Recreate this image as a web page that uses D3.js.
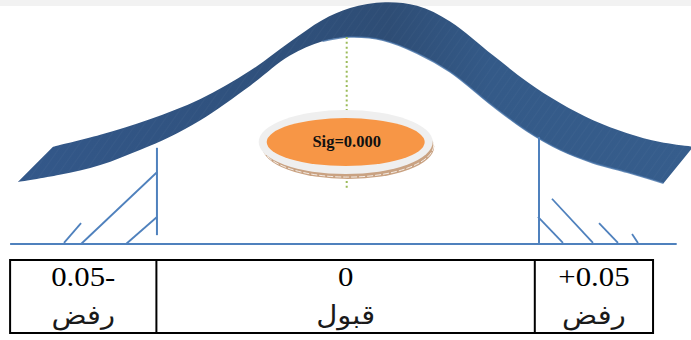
<!DOCTYPE html>
<html>
<head>
<meta charset="utf-8">
<script src="https://cdn.jsdelivr.net/npm/d3@7"></script>
<style>
  html, body { margin: 0; padding: 0; background: #ffffff; overflow: hidden; }
  svg { display: block; }
</style>
</head>
<body>
<svg id="chart" width="691" height="340"></svg>
<script>
// ---- data: z-score on x, curve height (density) on y ----
// lower (front) edge of the bell ribbon
const frontEdge = [
  [-3.02, 0.119], [-2.64, 0.133], [-2.27, 0.152], [-1.91, 0.181], [-1.64, 0.206],
  [-1.36, 0.238], [-0.91, 0.304], [-0.55, 0.362], [-0.25, 0.390], [0.00, 0.398],
  [0.30, 0.392], [0.61, 0.367], [0.91, 0.331], [1.30, 0.265], [1.61, 0.217],
  [1.91, 0.181], [2.21, 0.156], [2.52, 0.138], [2.85, 0.117]
];
// upper (back) edge of the bell ribbon
const backEdge = [
  [-2.70, 0.187], [-2.27, 0.210], [-1.82, 0.240], [-1.36, 0.279], [-0.91, 0.333],
  [-0.55, 0.388], [-0.25, 0.431], [0.00, 0.454], [0.32, 0.465], [0.61, 0.458],
  [0.91, 0.428], [1.30, 0.363], [1.61, 0.312], [1.91, 0.271], [2.21, 0.238],
  [2.52, 0.213], [2.82, 0.196], [3.12, 0.187]
];
// critical values: [z, bottom, top of the marker line]
const criticalLines = [[-1.755, 0.017, 0.185], [1.718, 0.002, 0.206]];
// rejection-region hatching: [z1, d1, z2, d2]
const hatchLeft = [
  [-2.60, 0.002, -2.445, 0.040],
  [-2.445, 0.000, -1.755, 0.138],
  [-2.036, 0.000, -1.755, 0.052]
];
const hatchRight = [
  [1.709, 0.052, 1.936, 0.002],
  [1.836, 0.087, 2.209, 0.002],
  [2.264, 0.040, 2.436, 0.002],
  [2.564, 0.019, 2.618, 0.002]
];
const baselineZ = [-3.09, 2.97];
const sigValue = 0.000;
const sigZ = -0.03;
const sigLine = [0.398, 0.104];
const sigLabelD = 0.196;
// decision table
const tableEdgesZ = [-3.09, -1.76, 1.68, 2.755];
const valueLabels = ["0.05-", "0", "+0.05"];
const decisionLabels = ["رفض", "قبول", "رفض"];

// ---- drawing ----
const svg = d3.select("#chart");
const W = 691, H = 340;

const x = d3.scaleLinear().domain([-3, 3]).range([20, 680]);
const y = d3.scaleLinear().domain([0, 0.4]).range([244, 36]);

const defs = svg.append("defs");
const grad = defs.append("linearGradient").attr("id", "ribbonFill")
  .attr("x1", "0%").attr("x2", "100%").attr("y1", "0%").attr("y2", "0%");
[["0%", "#33588a"], ["40%", "#2f507b"], ["55%", "#2e4d75"], ["70%", "#345a88"], ["100%", "#365d8c"]]
  .forEach(([o, c]) => grad.append("stop").attr("offset", o).attr("stop-color", c));

const stripes = defs.append("pattern").attr("id", "ribbonStripes")
  .attr("patternUnits", "userSpaceOnUse").attr("width", 7).attr("height", 7)
  .attr("patternTransform", "rotate(35)");
stripes.append("line").attr("x1", 0).attr("y1", 0).attr("x2", 0).attr("y2", 7)
  .attr("stroke", "#ffffff").attr("stroke-opacity", 0.05).attr("stroke-width", 1);

// light strip along the top of the frame
svg.append("rect").attr("x", 0).attr("y", 0).attr("width", W).attr("height", 6)
  .attr("fill", "#f2f2f2");

// bell ribbon
const edge = d3.line().x(d => x(d[0])).y(d => y(d[1])).curve(d3.curveCatmullRom.alpha(0.5));
const ribbonPath = edge(frontEdge) + "L" + edge(backEdge.slice().reverse()).slice(1) + "Z";
svg.append("path").attr("d", ribbonPath).attr("fill", "url(#ribbonFill)");
svg.append("path").attr("d", ribbonPath).attr("fill", "url(#ribbonStripes)");
svg.append("path")
  .attr("d", edge(frontEdge.filter(d => d[0] >= -0.3)))
  .attr("fill", "none").attr("stroke", "#4672a6").attr("stroke-width", 1.6)
  .attr("stroke-opacity", 0.8);

// base line, critical lines and hatching
const blue = "#4f81bd";
svg.append("line")
  .attr("x1", x(baselineZ[0])).attr("x2", x(baselineZ[1]))
  .attr("y1", y(0)).attr("y2", y(0))
  .attr("stroke", blue).attr("stroke-width", 2);

svg.selectAll("line.crit").data(criticalLines).join("line").attr("class", "crit")
  .attr("x1", d => x(d[0])).attr("x2", d => x(d[0]))
  .attr("y1", d => y(d[1])).attr("y2", d => y(d[2]))
  .attr("stroke", blue).attr("stroke-width", 2);

svg.selectAll("line.hatch").data(hatchLeft.concat(hatchRight)).join("line").attr("class", "hatch")
  .attr("x1", d => x(d[0])).attr("y1", d => y(d[1]))
  .attr("x2", d => x(d[2])).attr("y2", d => y(d[3]))
  .attr("stroke", blue).attr("stroke-width", 1.8);

// mean marker
svg.append("line")
  .attr("x1", x(sigZ)).attr("x2", x(sigZ))
  .attr("y1", y(sigLine[0])).attr("y2", y(sigLine[1]))
  .attr("stroke", "#9bbb59").attr("stroke-width", 2).attr("stroke-dasharray", "2,2.8");

// significance badge
const cx = x(sigZ) - 1, cy = y(sigLabelD);
svg.append("ellipse").attr("cx", cx + 2.5).attr("cy", cy + 4.5).attr("rx", 86).attr("ry", 32.5)
  .attr("fill", "#c9a282");
svg.append("ellipse").attr("cx", cx + 2).attr("cy", cy + 3).attr("rx", 86).attr("ry", 32)
  .attr("fill", "none").attr("stroke", "#ffffff").attr("stroke-width", 0.8).attr("stroke-dasharray", "6,2");
svg.append("ellipse").attr("cx", cx).attr("cy", cy).attr("rx", 87).attr("ry", 32)
  .attr("fill", "#efefef");
svg.append("ellipse").attr("cx", cx).attr("cy", cy).attr("rx", 79).attr("ry", 24)
  .attr("fill", "#f79646");
svg.append("text").attr("x", cx + 1).attr("y", cy + 5)
  .attr("text-anchor", "middle")
  .attr("font-family", "'Liberation Serif', 'Times New Roman', serif")
  .attr("font-weight", "bold").attr("font-size", 16.5).attr("fill", "#111")
  .text("Sig=" + d3.format(".3f")(sigValue));

// decision table
const tTop = 260, tBot = 333;
const tg = svg.append("g");
tg.append("rect")
  .attr("x", x(tableEdgesZ[0])).attr("y", tTop)
  .attr("width", x(tableEdgesZ[3]) - x(tableEdgesZ[0])).attr("height", tBot - tTop)
  .attr("fill", "none").attr("stroke", "#000").attr("stroke-width", 2);
tg.selectAll("line.div").data(tableEdgesZ.slice(1, 3)).join("line").attr("class", "div")
  .attr("x1", d => x(d)).attr("x2", d => x(d)).attr("y1", tTop).attr("y2", tBot)
  .attr("stroke", "#000").attr("stroke-width", 2);

const cells = valueLabels.map((v, i) => ({
  v, a: decisionLabels[i],
  c: (x(tableEdgesZ[i]) + x(tableEdgesZ[i + 1])) / 2
}));
tg.selectAll("text.val").data(cells).join("text").attr("class", "val")
  .attr("transform", d => `translate(${d.c},286) scale(1.14,1)`)
  .attr("text-anchor", "middle")
  .attr("font-family", "'Liberation Serif', 'Times New Roman', serif")
  .attr("font-size", 27).attr("fill", "#000")
  .text(d => d.v);
tg.selectAll("text.dec").data(cells).join("text").attr("class", "dec")
  .attr("transform", d => `translate(${d.c},324) scale(1.12,1)`)
  .attr("text-anchor", "middle").attr("direction", "rtl")
  .attr("font-family", "'Liberation Serif', 'DejaVu Sans', serif")
  .attr("font-size", 26).attr("fill", "#1a1a1a")
  .text(d => d.a);
</script>
</body>
</html>
